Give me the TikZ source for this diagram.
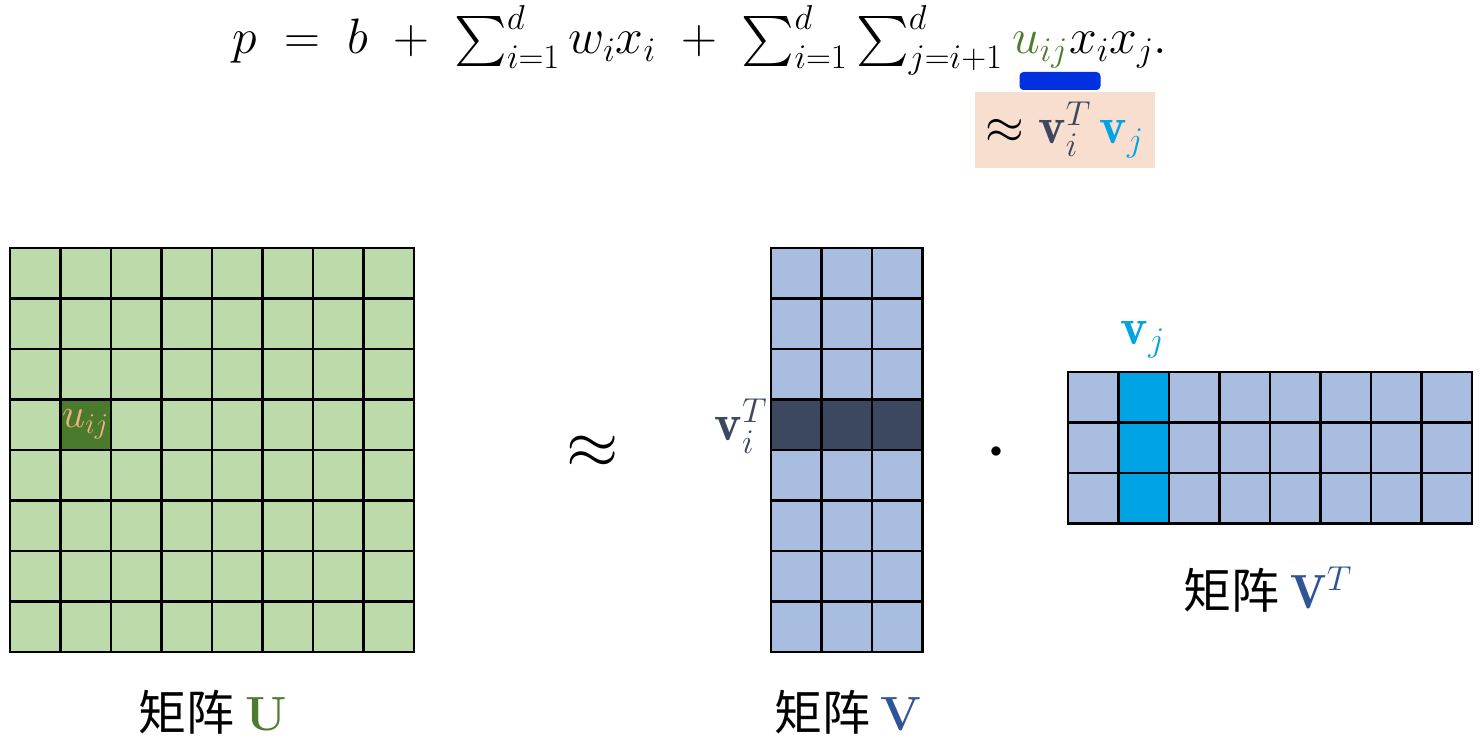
\documentclass[tikz,border=0pt]{standalone}
\usepackage{amsmath}
\usepackage{amssymb}
\usepackage{fontspec}
\usepackage{tikz}
\usetikzlibrary{positioning}
\newfontfamily\cjk{Noto Sans CJK SC}
\definecolor{ulight}{HTML}{BDDBAA}
\definecolor{udark}{HTML}{4A7A2E}
\definecolor{ugreen}{HTML}{4E7B30}
\definecolor{vlight}{HTML}{A8BDE0}
\definecolor{vdark}{HTML}{3C4760}
\definecolor{vcyan}{HTML}{00A3E4}
\definecolor{vblue}{HTML}{2F5597}
\definecolor{msalmon}{HTML}{F4B183}
\definecolor{mbox}{HTML}{F8DECF}
\definecolor{mbar}{HTML}{0030E0}
\tikzset{
  formula/.style={inner sep=0pt, font=\fontsize{25}{30}\selectfont},
  cell/.style={draw=black, line width=1.1pt},
  caption/.style={font=\fontsize{24}{28}\selectfont\cjk},
}

\begin{document}
\begin{tikzpicture}[x=0.5pt, y=-0.5pt]
      \useasboundingbox[fill=white] (0, 0) rectangle (1480, 743);
      % formula on top
      \node [formula, anchor=base west] (lhs) at (232, 54) {$p \;=\; b \;+\; \sum_{i=1}^{d} w_i x_i \;+\; \sum_{i=1}^{d}\sum_{j=i+1}^{d}\,$};
      \node [formula, anchor=base west, text=ugreen] (uij) at (lhs.base east) {$u_{ij}$};
      \node [formula, anchor=base west] (xixj) at (uij.base east) {$x_i x_j.$};
      \node [fill=mbar, rounded corners=2pt, minimum width=40.5pt, minimum height=9pt, inner sep=0pt] (bar) at (1060, 81) {};
      \node [fill=mbox, minimum width=90pt, minimum height=38pt, inner sep=0pt, font=\fontsize{26}{30}\selectfont] (approx) at (1065, 130)
        {$\approx \textcolor{vdark}{\mathbf{v}_i^T}\,\textcolor{vcyan}{\mathbf{v}_j}$};
      % matrix U
      \foreach \c in {0,...,7}
        \foreach \r in {0,...,7}
          \draw [cell, fill=ulight] (10+50.5*\c, 248+50.5*\r) rectangle ++(50.5, 50.5);
      \node [cell, fill=udark, minimum size=25.25pt, inner sep=0pt, text=msalmon, font=\fontsize{21}{24}\selectfont] (ucell) at (85.75, 424.75) {$u_{ij}$};
      % matrix V
      \foreach \c in {0,...,2}
        \foreach \r in {0,...,7}
          \draw [cell, fill=vlight] (771+50.5*\c, 248+50.5*\r) rectangle ++(50.5, 50.5);
      \foreach \c in {0,...,2}
        \draw [cell, fill=vdark] (771+50.5*\c, 399.5) rectangle ++(50.5, 50.5);
      \node [anchor=east, inner sep=1pt, text=vdark, font=\fontsize{26}{30}\selectfont] (vi) at (770, 426) {$\mathbf{v}_i^T$};
      % matrix V^T
      \foreach \c in {0,...,7}
        \foreach \r in {0,...,2}
          \draw [cell, fill=vlight] (1068+50.5*\c, 372+50.5*\r) rectangle ++(50.5, 50.5);
      \foreach \r in {0,...,2}
        \draw [cell, fill=vcyan] (1118.5, 372+50.5*\r) rectangle ++(50.5, 50.5);
      \node [text=vcyan, font=\fontsize{26}{30}\selectfont] (vj) at (1143, 340) {$\mathbf{v}_j$};
      % operators
      \node [scale=1.35, font=\fontsize{24}{28}\selectfont] (apx) at (593, 452) {$\approx$};
      \node [font=\fontsize{13}{15}\selectfont] (dot) at (996, 452) {$\bullet$};
      % captions
      \node [caption] (capU) at (213, 712) {矩阵 \textcolor{ugreen}{\bfseries\fontspec{Latin Modern Roman}U}};
      \node [caption] (capV) at (848, 712) {矩阵 \textcolor{vblue}{\bfseries\fontspec{Latin Modern Roman}V}};
      \node [caption] (capVT) at (1268, 590) {矩阵 \textcolor{vblue}{$\mathbf{V}^T$}};
    \end{tikzpicture}
\end{document}
